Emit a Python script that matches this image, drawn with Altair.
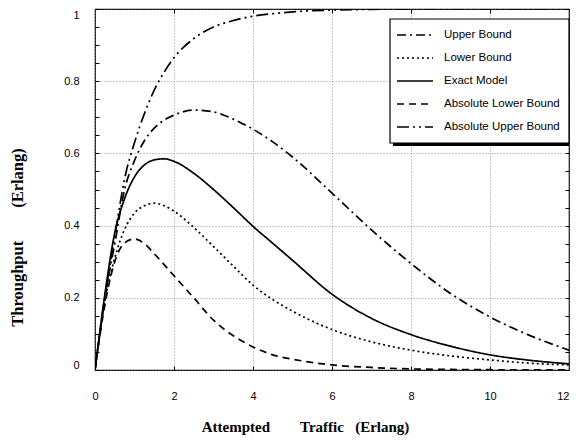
import altair as alt
import pandas as pd

# ---- data ----
x_vals = [0, 0.25, 0.5, 0.75, 1, 1.25, 1.5, 1.75, 2, 2.5, 3, 3.5, 4, 4.5, 5, 6, 7, 8, 9, 10, 11, 12]
upper_bound = [0, 0.2, 0.35, 0.5, 0.58, 0.635, 0.67, 0.692, 0.706, 0.72, 0.715, 0.695, 0.667, 0.632, 0.59, 0.49, 0.388, 0.295, 0.212, 0.147, 0.096, 0.055]
lower_bound = [0, 0.19, 0.31, 0.39, 0.435, 0.455, 0.462, 0.455, 0.44, 0.395, 0.342, 0.288, 0.235, 0.195, 0.163, 0.112, 0.078, 0.055, 0.039, 0.028, 0.019, 0.014]
exact_model = [0, 0.21, 0.38, 0.475, 0.535, 0.568, 0.582, 0.585, 0.578, 0.545, 0.5, 0.45, 0.398, 0.351, 0.304, 0.21, 0.143, 0.098, 0.066, 0.042, 0.027, 0.017]
abs_lower = [0, 0.18, 0.3, 0.352, 0.363, 0.35, 0.322, 0.292, 0.261, 0.2, 0.138, 0.095, 0.064, 0.042, 0.03, 0.014, 0.007, 0.003, 0.0015, 0.0008, 0.0004, 0.0002]
abs_upper = [0, 0.2, 0.37, 0.53, 0.63, 0.71, 0.775, 0.825, 0.865, 0.918, 0.95, 0.968, 0.98, 0.987, 0.992, 0.997, 0.999, 1, 1, 1, 1, 1]

names = ["Upper Bound", "Lower Bound", "Exact Model", "Absolute Lower Bound", "Absolute Upper Bound"]
series = [upper_bound, lower_bound, exact_model, abs_lower, abs_upper]
dashes = [[9, 4, 2, 4], [2, 3], [1, 0], [7, 5], [12, 4, 2, 4, 2, 4]]

y_ticks = [0, 0.2, 0.4, 0.6, 0.8, 1]
x_ticks = [0, 2, 4, 6, 8, 10, 12]
x_minor = [2, 4, 6, 8, 10]
y_minor = [round(i * 0.05, 2) for i in range(21)]

rows = []
for name, ys in zip(names, series):
    for xv, yv in zip(x_vals, ys):
        rows.append({"x": xv, "y": yv, "series": name})
df = pd.DataFrame(rows)

xscale = alt.Scale(domain=[0, 12], nice=False, zero=False)
yscale = alt.Scale(domain=[0, 1], nice=False)

NB = "\u00a0"
x_title = f"Attempted{NB*8}Traffic{NB*3}(Erlang)"
y_title = f"Throughput{NB*8}(Erlang)"

lines = alt.Chart(df).mark_line(color="black", strokeWidth=1.7, interpolate="monotone", clip=True).encode(
    x=alt.X("x:Q", scale=xscale, axis=alt.Axis(
        values=x_ticks, title=x_title, grid=True, tickSize=0, labelPadding=20,
        labelAlign={"condition": {"test": "datum.value == 12", "value": "right"}, "value": "center"},
        titleFontSize=15, titleX=210, titleY=56, titleBaseline="middle", titleAlign="center")),
    y=alt.Y("y:Q", scale=yscale, axis=alt.Axis(
        values=y_ticks, format="~g", title=y_title, grid=True, tickSize=0, labelPadding=16,
        labelFlush=True,
        titleFontSize=16.5, titleX=-78, titleY=228, titleBaseline="middle", titleAlign="center", titleAngle=-90)),
    strokeDash=alt.StrokeDash("series:N", scale=alt.Scale(domain=names, range=dashes),
        legend=alt.Legend(orient="none", legendX=301, legendY=16, title=None, padding=0,
                          symbolType="M-1,0H3", symbolSize=324, symbolStrokeWidth=1.5,
                          symbolStrokeColor="black", symbolFillColor="transparent",
                          labelFont="Liberation Sans", labelFontSize=11.5, labelColor="black",
                          labelOffset=28, rowPadding=7)),
)

ticks_a = alt.Chart(df).mark_point(opacity=0, size=1, clip=True).encode(
    x=alt.X("x:Q", scale=xscale, axis=alt.Axis(orient="top", offset=-4, tickSize=4, labels=False,
                                              grid=False, title=None, values=x_minor)),
    y=alt.Y("y:Q", scale=yscale, axis=alt.Axis(orient="left", offset=-4, tickSize=4, labels=False,
                                              grid=False, title=None, values=y_minor)),
)
ticks_b = alt.Chart(df).mark_point(opacity=0, size=1, clip=True).encode(
    x=alt.X("x:Q", scale=xscale, axis=alt.Axis(orient="bottom", offset=-4, tickSize=4, labels=False,
                                              grid=False, title=None, values=x_minor)),
    y=alt.Y("y:Q", scale=yscale, axis=alt.Axis(orient="right", offset=-4, tickSize=4, labels=False,
                                              grid=False, title=None, values=y_minor)),
)

one = pd.DataFrame({"a": [0]})
shadow = alt.Chart(one).mark_rect(color="black").encode(
    x=alt.value(298), x2=alt.value("width"), y=alt.value(13), y2=alt.value(137)
)
box = alt.Chart(one).mark_rect(fill="white", stroke="black", strokeWidth=1.2).encode(
    x=alt.value(295), x2=alt.value("width"), y=alt.value(10), y2=alt.value(134)
)

chart = alt.layer(lines, ticks_a, ticks_b, shadow, box).resolve_axis(
    x="independent", y="independent"
).properties(
    width=562, height=427,
    autosize=alt.AutoSizeParams(type="fit", contains="padding"),
    padding={"left": 1, "top": 0, "right": 0, "bottom": 1}
).configure_view(
    stroke="black", strokeWidth=1.2
).configure_axis(
    labelFont="Liberation Sans", labelFontSize=11, labelColor="black",
    titleFont="Liberation Serif", titleFontWeight="bold", titleColor="black",
    gridColor="#777", gridDash=[1, 2], gridWidth=0.8, tickColor="black", domain=False
)

chart.save("out.html", embed_options={"renderer": "svg", "actions": False})
